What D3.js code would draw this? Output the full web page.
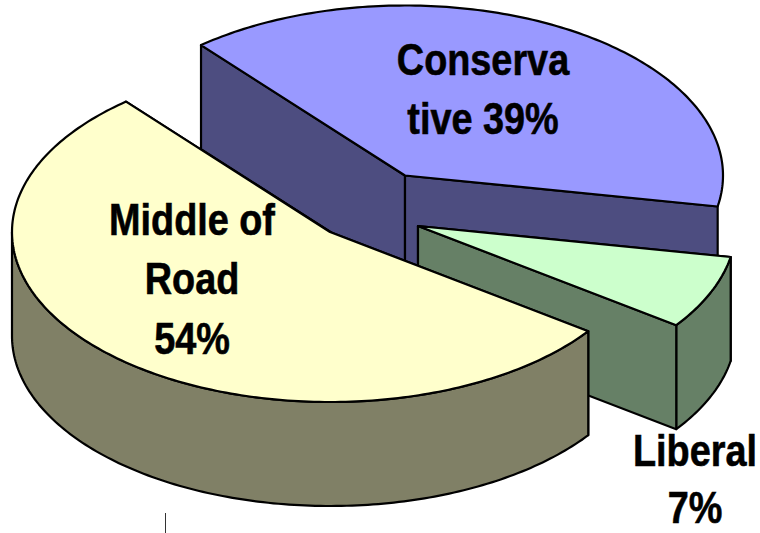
<!DOCTYPE html>
<html>
<head>
<meta charset="utf-8">
<script src="https://cdnjs.cloudflare.com/ajax/libs/d3/7.8.5/d3.min.js"></script>
<style>html,body{margin:0;padding:0;background:#fff}svg{display:block}</style>
</head>
<body>
<script>
const categories = ["Liberal", "Middle of Road", "Conservative"];
const values = [7, 54, 39];
const topColors = ["#CCFFCC", "#FFFFCC", "#9999FF"];
const wallColors = ["#668066", "#808066", "#4D4D80"];
const labelLines = [["Liberal", "7%"], ["Middle of", "Road", "54%"], ["Conserva", "tive 39%"]];
const drawOrder = [2, 0, 1];

const W = 760, H = 533, RX = 318, RY = 170, DEPTH = 104;
const apexes = [[418, 226], [330, 232], [405, 175.5]];
const labelAnchors = [[695, 466], [192, 235], [483, 75]];
const lineSteps = [57, 59.5, 59.5];
const FONT = 44.5, SQUEEZE = 0.85;

const svg = d3.select("body").append("svg").attr("width", W).attr("height", H);
svg.append("rect").attr("width", W).attr("height", H).attr("fill", "#fff");

const TAU = Math.PI * 2, START = 100.5 * Math.PI / 180;
const arcs = d3.pie().sort(null).startAngle(START).endAngle(START + TAU)(values);
const angleScale = d3.scaleLinear().domain([0, 1]);
const lineGen = d3.line();

function rimPts(i, a0, a1, dz) {
  const [cx, cy] = apexes[i];
  const n = Math.max(2, Math.ceil((a1 - a0) * 60));
  angleScale.range([a0, a1]);
  return d3.range(n + 1).map(k => {
    const a = angleScale(k / n);
    return [cx + RX * Math.sin(a), cy - RY * Math.cos(a) + dz];
  });
}

drawOrder.forEach(i => {
  const a = arcs[i], [cx, cy] = apexes[i];
  const g = svg.append("g").attr("stroke", "#000").attr("stroke-width", 2.2).attr("stroke-linejoin", "round");
  const p0 = rimPts(i, a.startAngle, a.startAngle, 0)[0];
  const p1 = rimPts(i, a.endAngle, a.endAngle, 0)[0];
  const wall = (pts) => g.append("path").attr("d", lineGen(pts) + "Z").attr("fill", wallColors[i]);
  // radial walls
  wall([[cx, cy], p0, [p0[0], p0[1] + DEPTH], [cx, cy + DEPTH]]);
  // outer wall: only the part of the rim facing the viewer (90deg..270deg)
  const vis0 = Math.max(a.startAngle, Math.PI / 2);
  const vis1 = Math.min(a.endAngle, Math.PI * 1.5);
  if (vis1 > vis0) {
    wall(rimPts(i, vis0, vis1, 0).concat(rimPts(i, vis0, vis1, DEPTH).reverse()));
  }
  wall([[cx, cy], p1, [p1[0], p1[1] + DEPTH], [cx, cy + DEPTH]]);
  // top face
  g.append("path")
    .attr("d", lineGen([[cx, cy]].concat(rimPts(i, a.startAngle, a.endAngle, 0))) + "Z")
    .attr("fill", topColors[i]);
});

categories.forEach((c, i) => {
  const [x, y] = labelAnchors[i];
  const t = svg.append("g").attr("transform", `translate(${x},${y}) scale(${SQUEEZE},1)`);
  labelLines[i].forEach((line, k) => {
    t.append("text").attr("y", k * lineSteps[i])
      .attr("text-anchor", "middle")
      .attr("font-family", "'Liberation Sans', Arial, sans-serif")
      .attr("font-weight", "bold").attr("font-size", FONT).attr("fill", "#000")
      .attr("stroke", "#000").attr("stroke-width", 0.6)
      .text(line);
  });
});

svg.append("line").attr("x1", 165.5).attr("x2", 165.5).attr("y1", 513).attr("y2", 533)
  .attr("stroke", "#333").attr("stroke-width", 1);
</script>
</body>
</html>
